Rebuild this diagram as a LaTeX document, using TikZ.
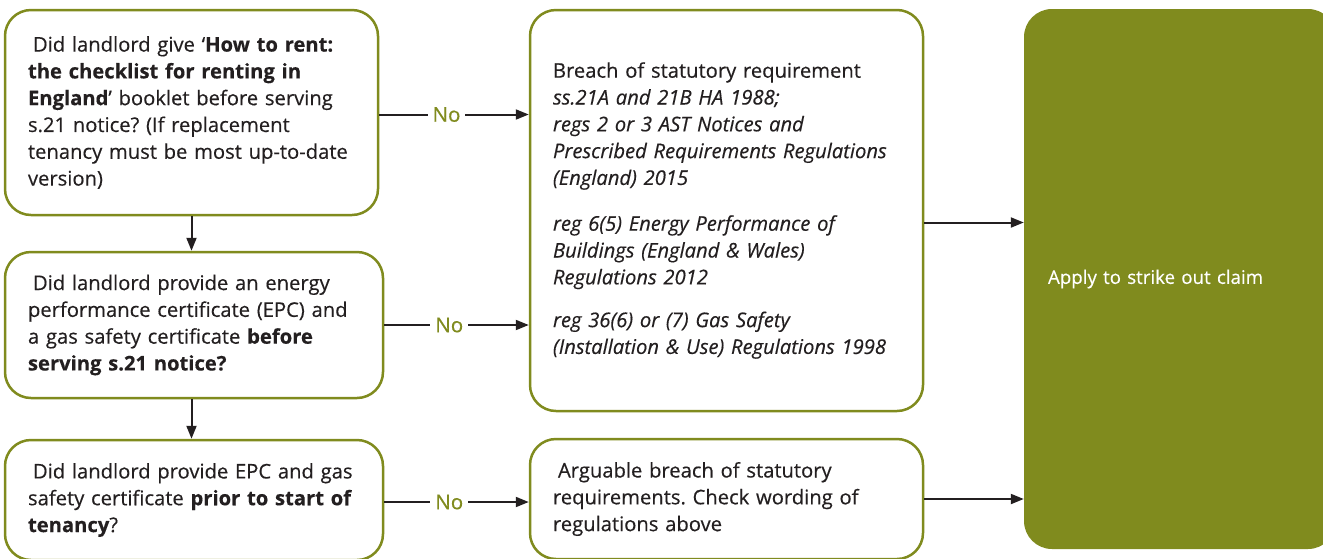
\documentclass[tikz,border=0pt]{standalone}
\usepackage{fontspec}
\setmainfont{Open Sans}[FakeBold=0.35]
\usetikzlibrary{arrows.meta}
\definecolor{olive}{RGB}{128,139,30}
\definecolor{ink}{RGB}{35,31,32}
\tikzset{
  box/.style={draw=olive, line width=2.5pt, rounded corners=26pt, fill=white,
    align=left, inner xsep=23pt, inner ysep=0pt, text=ink,
    font=\fontsize{20.2}{26.8}\selectfont},
  gbox/.style={fill=olive, rounded corners=28pt, align=left, inner xsep=24pt,
    inner ysep=0pt, text=white, font=\fontsize{18.7}{26.5}\selectfont},
  arr/.style={draw=ink, line width=2pt, -{Triangle[length=13pt,width=10pt]}},
  nolab/.style={fill=white, text=olive, inner sep=5pt, font=\fontsize{20.5}{21}\selectfont}
}
\begin{document}
\frenchspacing
\begin{tikzpicture}[x=1pt,y=-1pt]
\useasboundingbox (0,0) rectangle (1323,558);
\clip (0,0) rectangle (1323,558);
% left column
\node[box, text width=327pt, minimum height=205pt] (b1) at (191.5,112.5)
 {\hspace*{5pt}Did landlord give ‘\textbf{How to rent:}\\
  \textbf{the checklist for renting in}\\
  \textbf{England}’ booklet before serving\\
  s.21 notice? (If replacement\\
  tenancy must be most up-to-date\\
  version)};
\node[box, text width=332pt, minimum height=146pt] (b2) at (194,325)
 {\hspace*{5pt}Did landlord provide an energy\\
  performance certificate (EPC) and\\
  a gas safety certificate \textbf{before}\\
  \textbf{serving s.21 notice?}};
\node[box, text width=332pt, minimum height=120pt] (b3) at (194,500)
 {\hspace*{5pt}Did landlord provide EPC and gas\\
  safety certificate \textbf{prior to start of}\\
  \textbf{tenancy}?};
% middle column
\node[box, text width=347pt, minimum height=401pt] (m1) at (726.5,210.5)
 {Breach of statutory requirement\\
  \textit{ss.21A and 21B HA 1988;}\\
  \textit{regs 2 or 3 AST Notices and}\\
  \textit{Prescribed Requirements Regulations}\\
  \textit{(England) 2015}\\[19pt]
  \textit{reg 6(5) Energy Performance of}\\
  \textit{Buildings (England \& Wales)}\\
  \textit{Regulations 2012}\\[16pt]
  \textit{reg 36(6) or (7) Gas Safety}\\
  \textit{(Installation \& Use) Regulations 1998}};
\node[box, text width=347pt, minimum height=120pt] (m2) at (726.5,499)
 {\hspace*{5pt}Arguable breach of statutory\\
  requirements. Check wording of\\
  regulations above};
% right column
\node[gbox, text width=264pt, minimum height=540pt] (g) at (1180,279)
 {Apply to strike out claim};
% connectors
\draw[arr] (b1.south) -- (b1.south |- b2.north);
\draw[arr] (b2.south -| b1.south) -- (b1.south |- b3.north);
\draw[arr] ([yshift=-2pt]b1.east) -- node[nolab, pos=0.45]{No} ([yshift=-2pt]b1.east -| m1.west);
\draw[arr] (b2.east) -- node[nolab, pos=0.45]{No} (b2.east -| m1.west);
\draw[arr] ([yshift=-2pt]b3.east) -- node[nolab, pos=0.45]{No} ([yshift=-2pt]b3.east -| m2.west);
\draw[arr] ([yshift=-12pt]m1.east) -- ([yshift=-12pt]m1.east -| g.west);
\draw[arr] (m2.east) -- (m2.east -| g.west);
\end{tikzpicture}
\end{document}
